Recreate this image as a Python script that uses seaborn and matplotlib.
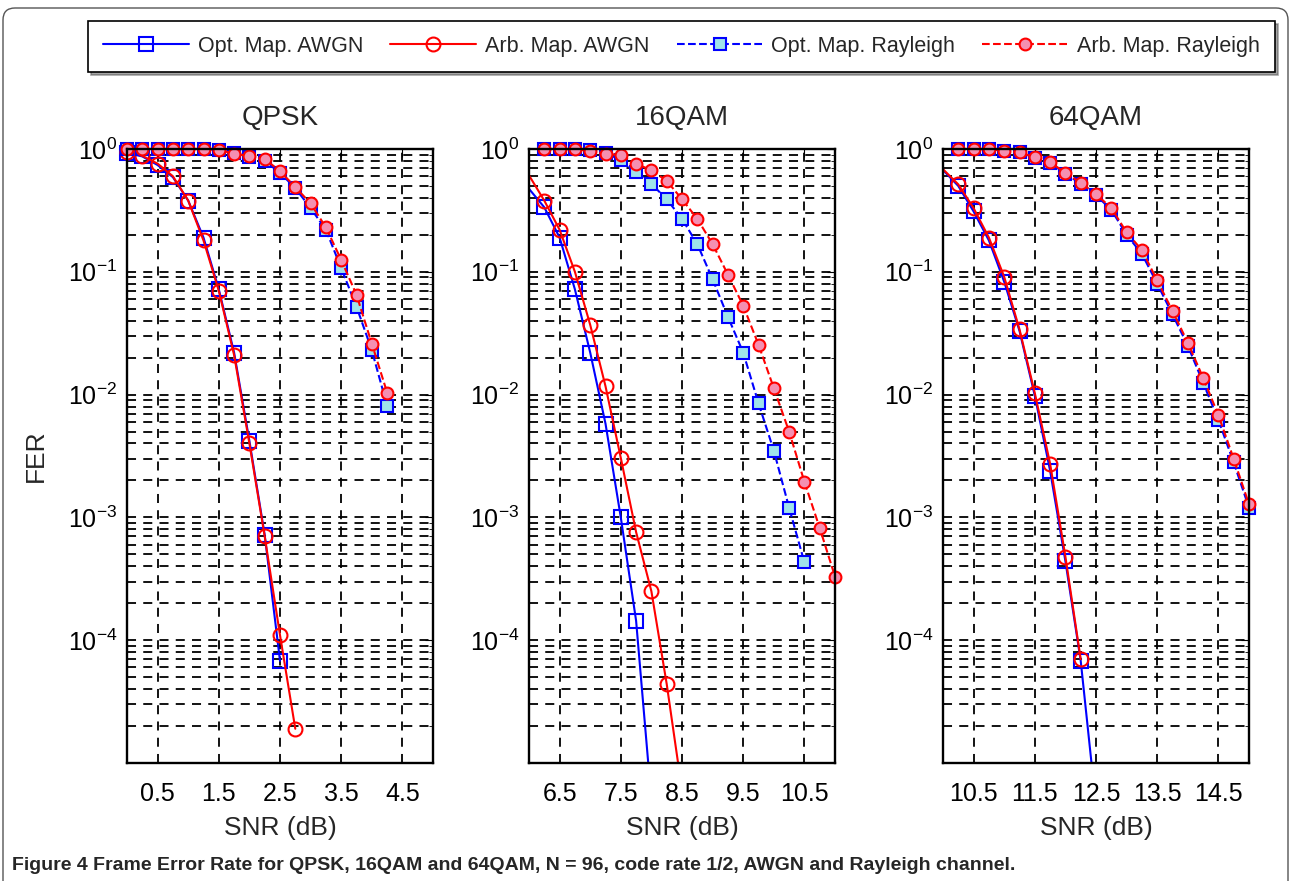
import numpy as np
import matplotlib
matplotlib.use("Agg")
import matplotlib.pyplot as plt
import seaborn as sns
from matplotlib.ticker import FixedLocator, LogLocator, NullFormatter, NullLocator
from matplotlib.transforms import Bbox, TransformedBbox
from matplotlib.patches import FancyBboxPatch

# ---- data (SNR in dB, FER) ----
# QPSK
qpsk_snr_awgn_opt = [0, 0.25, 0.5, 0.75, 1.0, 1.25, 1.5, 1.75, 2.0, 2.25, 2.5]
qpsk_fer_awgn_opt = [0.93, 0.87, 0.74, 0.59, 0.38, 0.19, 0.072, 0.022, 0.0042, 7.2e-4, 6.8e-5]
qpsk_snr_awgn_arb = [0, 0.25, 0.5, 0.75, 1.0, 1.25, 1.5, 1.75, 2.0, 2.25, 2.5, 2.75]
qpsk_fer_awgn_arb = [0.95, 0.88, 0.76, 0.60, 0.38, 0.18, 0.070, 0.021, 0.0040, 7.0e-4, 1.1e-4, 1.9e-5]
qpsk_snr_ray = [0, 0.25, 0.5, 0.75, 1.0, 1.25, 1.5, 1.75, 2.0, 2.25, 2.5, 2.75,
                3.0, 3.25, 3.5, 3.75, 4.0, 4.25]
qpsk_fer_ray_opt = [1.0, 1.0, 1.0, 1.0, 1.0, 1.0, 0.99, 0.93, 0.86, 0.80, 0.64, 0.48,
                    0.33, 0.22, 0.107, 0.052, 0.023, 0.0081]
qpsk_fer_ray_arb = [1.0, 1.0, 1.0, 1.0, 1.0, 1.0, 0.99, 0.91, 0.88, 0.83, 0.66, 0.49,
                    0.36, 0.23, 0.125, 0.065, 0.026, 0.0104]

# 16QAM
qam16_snr_awgn_opt = [5.75, 6.25, 6.5, 6.75, 7.0, 7.25, 7.5, 7.75, 8.0]
qam16_fer_awgn_opt = [0.67, 0.335, 0.19, 0.072, 0.022, 0.0058, 1.0e-3, 1.44e-4, 5e-6]
qam16_snr_awgn_arb = [5.75, 6.25, 6.5, 6.75, 7.0, 7.25, 7.5, 7.75, 8.0, 8.25, 8.5]
qam16_fer_awgn_arb = [0.98, 0.38, 0.22, 0.10, 0.037, 0.0117, 3.05e-3, 7.6e-4, 2.5e-4, 4.4e-5, 6e-6]
qam16_snr_ray_opt = [6.25, 6.5, 6.75, 7.0, 7.25, 7.5, 7.75, 8.0, 8.25, 8.5, 8.75, 9.0,
                     9.25, 9.5, 9.75, 10.0, 10.25, 10.5]
qam16_fer_ray_opt = [1.0, 1.0, 1.0, 0.98, 0.93, 0.81, 0.65, 0.52, 0.39, 0.27, 0.168, 0.087,
                     0.043, 0.022, 0.0085, 3.5e-3, 1.2e-3, 4.3e-4]
qam16_snr_ray_arb = [6.25, 6.5, 6.75, 7.0, 7.25, 7.5, 7.75, 8.0, 8.25, 8.5, 8.75, 9.0,
                     9.25, 9.5, 9.75, 10.0, 10.25, 10.5, 10.75, 11.0]
qam16_fer_ray_arb = [1.0, 1.0, 1.0, 0.96, 0.915, 0.89, 0.76, 0.67, 0.55, 0.39, 0.27, 0.168,
                     0.095, 0.053, 0.0255, 0.0113, 0.005, 1.95e-3, 8.2e-4, 3.3e-4]

# 64QAM
qam64_snr_awgn_opt = [9.75, 10.25, 10.5, 10.75, 11.0, 11.25, 11.5, 11.75, 12.0, 12.25, 12.5]
qam64_fer_awgn_opt = [0.91, 0.50, 0.31, 0.18, 0.083, 0.033, 0.0098, 2.4e-3, 4.4e-4, 6.8e-5, 4.5e-6]
qam64_snr_awgn_arb = [9.75, 10.25, 10.5, 10.75, 11.0, 11.25, 11.5, 11.75, 12.0, 12.25]
qam64_fer_awgn_arb = [0.91, 0.515, 0.33, 0.19, 0.091, 0.034, 0.0103, 2.74e-3, 4.8e-4, 7.0e-5]
qam64_snr_ray = [10.25, 10.5, 10.75, 11.0, 11.25, 11.5, 11.75, 12.0, 12.25, 12.5, 12.75,
                 13.0, 13.25, 13.5, 13.75, 14.0, 14.25, 14.5, 14.75, 15.0]
qam64_fer_ray_opt = [1.0, 1.0, 1.0, 0.97, 0.94, 0.85, 0.77, 0.63, 0.52, 0.42, 0.32,
                     0.20, 0.14, 0.080, 0.045, 0.025, 0.0125, 6.2e-3, 2.8e-3, 1.2e-3]
qam64_fer_ray_arb = [1.0, 1.0, 1.0, 0.97, 0.94, 0.855, 0.78, 0.64, 0.53, 0.43, 0.33,
                     0.21, 0.15, 0.085, 0.048, 0.0265, 0.0137, 6.8e-3, 3.0e-3, 1.28e-3]

titles = ["QPSK", "16QAM", "64QAM"]
xlims = [(0, 5), (6, 11), (10, 15)]
xticks = [[0.5, 1.5, 2.5, 3.5, 4.5], [6.5, 7.5, 8.5, 9.5, 10.5], [10.5, 11.5, 12.5, 13.5, 14.5]]
series_labels = ["Opt. Map. AWGN", "Arb. Map. AWGN", "Opt. Map. Rayleigh", "Arb. Map. Rayleigh"]

panels = [
    [(qpsk_snr_awgn_opt, qpsk_fer_awgn_opt), (qpsk_snr_awgn_arb, qpsk_fer_awgn_arb),
     (qpsk_snr_ray, qpsk_fer_ray_opt), (qpsk_snr_ray, qpsk_fer_ray_arb)],
    [(qam16_snr_awgn_opt, qam16_fer_awgn_opt), (qam16_snr_awgn_arb, qam16_fer_awgn_arb),
     (qam16_snr_ray_opt, qam16_fer_ray_opt), (qam16_snr_ray_arb, qam16_fer_ray_arb)],
    [(qam64_snr_awgn_opt, qam64_fer_awgn_opt), (qam64_snr_awgn_arb, qam64_fer_awgn_arb),
     (qam64_snr_ray, qam64_fer_ray_opt), (qam64_snr_ray, qam64_fer_ray_arb)],
]

# line / marker styles for the four series
styles = [
    dict(color="#0000ff", marker="s", markersize=10, markerfacecolor="none",
         markeredgecolor="#0000ff", linestyle="-"),
    dict(color="#ff0000", marker="o", markersize=10, markerfacecolor="none",
         markeredgecolor="#ff0000", linestyle="-"),
    dict(color="#0000ff", marker="s", markersize=8, markerfacecolor="#9fe3ea",
         markeredgecolor="#0000ff", linestyle="--"),
    dict(color="#ff0000", marker="o", markersize=8.5, markerfacecolor="#f48fb1",
         markeredgecolor="#ff0000", linestyle="--"),
]

sns.set_style("white")
plt.rcParams["font.family"] = ["Liberation Sans", "DejaVu Sans"]

W, H = 1292, 881
fig = plt.figure(figsize=(W / 100, H / 100), dpi=100)

lefts = [127, 529, 943]
ax_w = 306 / W
ax_b = (H - 763) / H
ax_h = (763 - 149) / H
grid_ls = (0, (5, 4))

axes = []
for i in range(3):
    ax = fig.add_axes([lefts[i] / W, ax_b, ax_w, ax_h])
    ax.set_yscale("log")
    for k in range(4):
        x, y = panels[i][k]
        sns.lineplot(x=x, y=y, ax=ax, linewidth=1.5, markeredgewidth=1.5,
                     label=series_labels[k] if i == 0 else None, **styles[k])

    ax.set_xlim(*xlims[i])
    ax.set_ylim(1e-5, 1)
    ax.set_xticks(xticks[i])
    ax.set_xticklabels([f"{t:g}" for t in xticks[i]])
    ax.xaxis.set_minor_locator(NullLocator())
    ax.yaxis.set_major_locator(FixedLocator([1e-4, 1e-3, 1e-2, 1e-1, 1]))
    ax.yaxis.set_minor_locator(LogLocator(base=10, subs=np.arange(2, 10), numticks=20))
    ax.yaxis.set_minor_formatter(NullFormatter())

    ax.set_axisbelow(True)
    ax.grid(True, which="major", axis="x", color="k", linestyle=grid_ls, linewidth=1.3)
    ax.grid(True, which="both", axis="y", color="k", linestyle=grid_ls, linewidth=1.3)

    for sp in ax.spines.values():
        sp.set_color("k")
        sp.set_linewidth(1.7)
    ax.tick_params(which="both", direction="in", top=True, right=True, colors="k")
    ax.tick_params(axis="x", labelsize=18, pad=14, length=6)
    ax.tick_params(axis="y", which="major", labelsize=18, pad=7, length=6)
    ax.tick_params(axis="y", which="minor", length=3)

    ax.set_title(titles[i], fontsize=20, pad=17)
    ax.set_xlabel("SNR (dB)", fontsize=19, labelpad=7)
    ax.set_ylabel("")

    # let edge markers show fully like the original, but keep lines cut at the left/bottom
    x0 = -0.06 if i == 0 else 0.0
    for ln in ax.lines:
        ln.set_clip_box(TransformedBbox(Bbox([[x0, 0.0], [1.06, 1.06]]), ax.transAxes))

    if ax.get_legend() is not None:
        ax.get_legend().remove()
    axes.append(ax)

axes[0].set_ylabel("FER", fontsize=19)
axes[0].yaxis.set_label_coords(-0.26, 0.5)

handles, labels = axes[0].get_legend_handles_labels()
leg = fig.legend(handles, labels, loc="lower left",
                 bbox_to_anchor=(88 / W, 1 - 72 / H, 1187 / W, 50 / H),
                 mode="expand", ncol=4, fontsize=15.5, frameon=True, fancybox=False,
                 shadow=True, edgecolor="k", handlelength=4, handletextpad=0.4,
                 borderaxespad=0, borderpad=0.7)
leg.get_frame().set_linewidth(1.2)

fig.text(12 / W, 1 - 865 / H,
         "Figure 4 Frame Error Rate for QPSK, 16QAM and 64QAM, N = 96, code rate 1/2, AWGN and Rayleigh channel.",
         fontsize=14, fontweight="bold", va="center", ha="left",
         family=["Liberation Sans", "DejaVu Sans"])

# thin rounded frame around the figure panel
frame = FancyBboxPatch((0.03, -0.3), 12.85, 8.73 + 0.3, boxstyle="round,pad=0,rounding_size=0.12",
                       transform=fig.dpi_scale_trans, fill=False, edgecolor="#555555",
                       linewidth=1.0)
fig.patches.append(frame)

fig.savefig("out.png", dpi=100)
